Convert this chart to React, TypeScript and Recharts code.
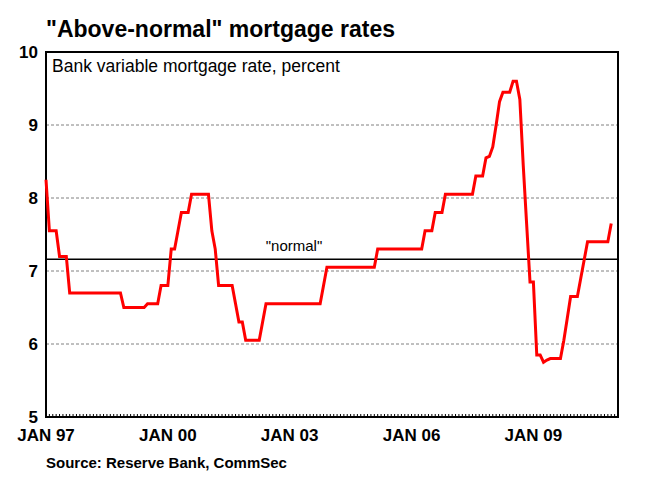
import { LineChart, Line, XAxis, YAxis, CartesianGrid, ReferenceLine, ReferenceArea } from 'recharts'

// monthly bank variable mortgage rate, Jan 1997 .. Dec 2010
const rates = [
  8.25, 7.55, 7.55, 7.55, 7.2, 7.2, 7.2, 6.7, 6.7, 6.7, 6.7, 6.7, // 1997
  6.7, 6.7, 6.7, 6.7, 6.7, 6.7, 6.7, 6.7, 6.7, 6.7, 6.7, 6.5, // 1998
  6.5, 6.5, 6.5, 6.5, 6.5, 6.5, 6.55, 6.55, 6.55, 6.55, 6.8, 6.8, // 1999
  6.8, 7.3, 7.3, 7.55, 7.8, 7.8, 7.8, 8.05, 8.05, 8.05, 8.05, 8.05, // 2000
  8.05, 7.55, 7.3, 6.8, 6.8, 6.8, 6.8, 6.8, 6.55, 6.3, 6.3, 6.05, // 2001
  6.05, 6.05, 6.05, 6.05, 6.3, 6.55, 6.55, 6.55, 6.55, 6.55, 6.55, 6.55, // 2002
  6.55, 6.55, 6.55, 6.55, 6.55, 6.55, 6.55, 6.55, 6.55, 6.55, 6.8, 7.05, // 2003
  7.05, 7.05, 7.05, 7.05, 7.05, 7.05, 7.05, 7.05, 7.05, 7.05, 7.05, 7.05, // 2004
  7.05, 7.05, 7.3, 7.3, 7.3, 7.3, 7.3, 7.3, 7.3, 7.3, 7.3, 7.3, // 2005
  7.3, 7.3, 7.3, 7.3, 7.55, 7.55, 7.55, 7.8, 7.8, 7.8, 8.05, 8.05, // 2006
  8.05, 8.05, 8.05, 8.05, 8.05, 8.05, 8.05, 8.3, 8.3, 8.3, 8.55, 8.57, // 2007
  8.7, 9.0, 9.32, 9.45, 9.45, 9.45, 9.6, 9.6, 9.35, 8.45, 7.65, 6.85, // 2008
  6.85, 5.85, 5.85, 5.75, 5.78, 5.8, 5.8, 5.8, 5.8, 6.05, 6.35, 6.65, // 2009
  6.65, 6.65, 6.9, 7.15, 7.4, 7.4, 7.4, 7.4, 7.4, 7.4, 7.4, 7.65, // 2010
]

const normalRate = 7.16
const yTicks = [5, 6, 7, 8, 9, 10]
const yearLabels = ['JAN 97', 'JAN 00', 'JAN 03', 'JAN 06', 'JAN 09']
const lastMonth = 169

const data = rates.map((rate, m) => ({ m, rate }))
const monthTicks = Array.from({ length: lastMonth + 1 }, (_, i) => i)

const font = '"Liberation Sans", Arial, sans-serif'

function MonthTick(props: any) {
  const { x, y, payload } = props
  const m = payload.value
  const label = m % 36 === 0 ? yearLabels[m / 36] : null
  return (
    <g>
      <line x1={x} x2={x} y1={y} y2={y - 3} stroke="#000" strokeWidth={1} />
      {label && (
        <text x={x} y={y + 24} textAnchor="middle" fontFamily={font} fontWeight="bold" fontSize={17} fill="#000">
          {label}
        </text>
      )}
    </g>
  )
}

export default function App() {
  return (
    <div style={{ position: 'absolute', left: 0, top: 0, width: 654, height: 489, background: '#fff' }}>
      <LineChart
        width={654}
        height={489}
        data={data}
        margin={{ top: 52, right: 36, bottom: 42, left: 6 }}
      >
        <CartesianGrid vertical={false} stroke="#808080" strokeDasharray="3 2" />
        <XAxis
          dataKey="m"
          type="number"
          domain={[0, lastMonth]}
          ticks={monthTicks}
          interval={0}
          tick={<MonthTick />}
          tickSize={0}
          tickMargin={0}
          tickLine={false}
          axisLine={false}
          height={30}
        />
        <YAxis
          domain={[5, 10]}
          ticks={yTicks}
          width={40}
          tickLine={false}
          axisLine={false}
          tick={{ fontFamily: font, fontWeight: 'bold', fontSize: 17, fill: '#000' }}
        />
        <ReferenceArea x1={0} x2={lastMonth} y1={5} y2={10} fill="none" stroke="#000" strokeWidth={2} />
        <ReferenceLine
          y={normalRate}
          stroke="#000"
          strokeWidth={1.5}
          label={{ value: '"normal"', position: 'top', dx: -38, offset: 8, fontFamily: font, fontSize: 15, fill: '#000' }}
        />
        <Line
          type="linear"
          dataKey="rate"
          stroke="#ff0000"
          strokeWidth={3}
          dot={false}
          isAnimationActive={false}
        />
      </LineChart>
      <svg width={654} height={489} style={{ position: 'absolute', left: 0, top: 0, pointerEvents: 'none' }}>
        <text x={46} y={37} fontFamily={font} fontWeight="bold" fontSize={23} fill="#000">
          "Above-normal" mortgage rates
        </text>
        <text x={52} y={72} fontFamily={font} fontSize={17.5} fill="#000">
          Bank variable mortgage rate, percent
        </text>
        <text x={46} y={468} fontFamily={font} fontWeight="bold" fontSize={15} fill="#000">
          Source: Reserve Bank, CommSec
        </text>
      </svg>
    </div>
  )
}
